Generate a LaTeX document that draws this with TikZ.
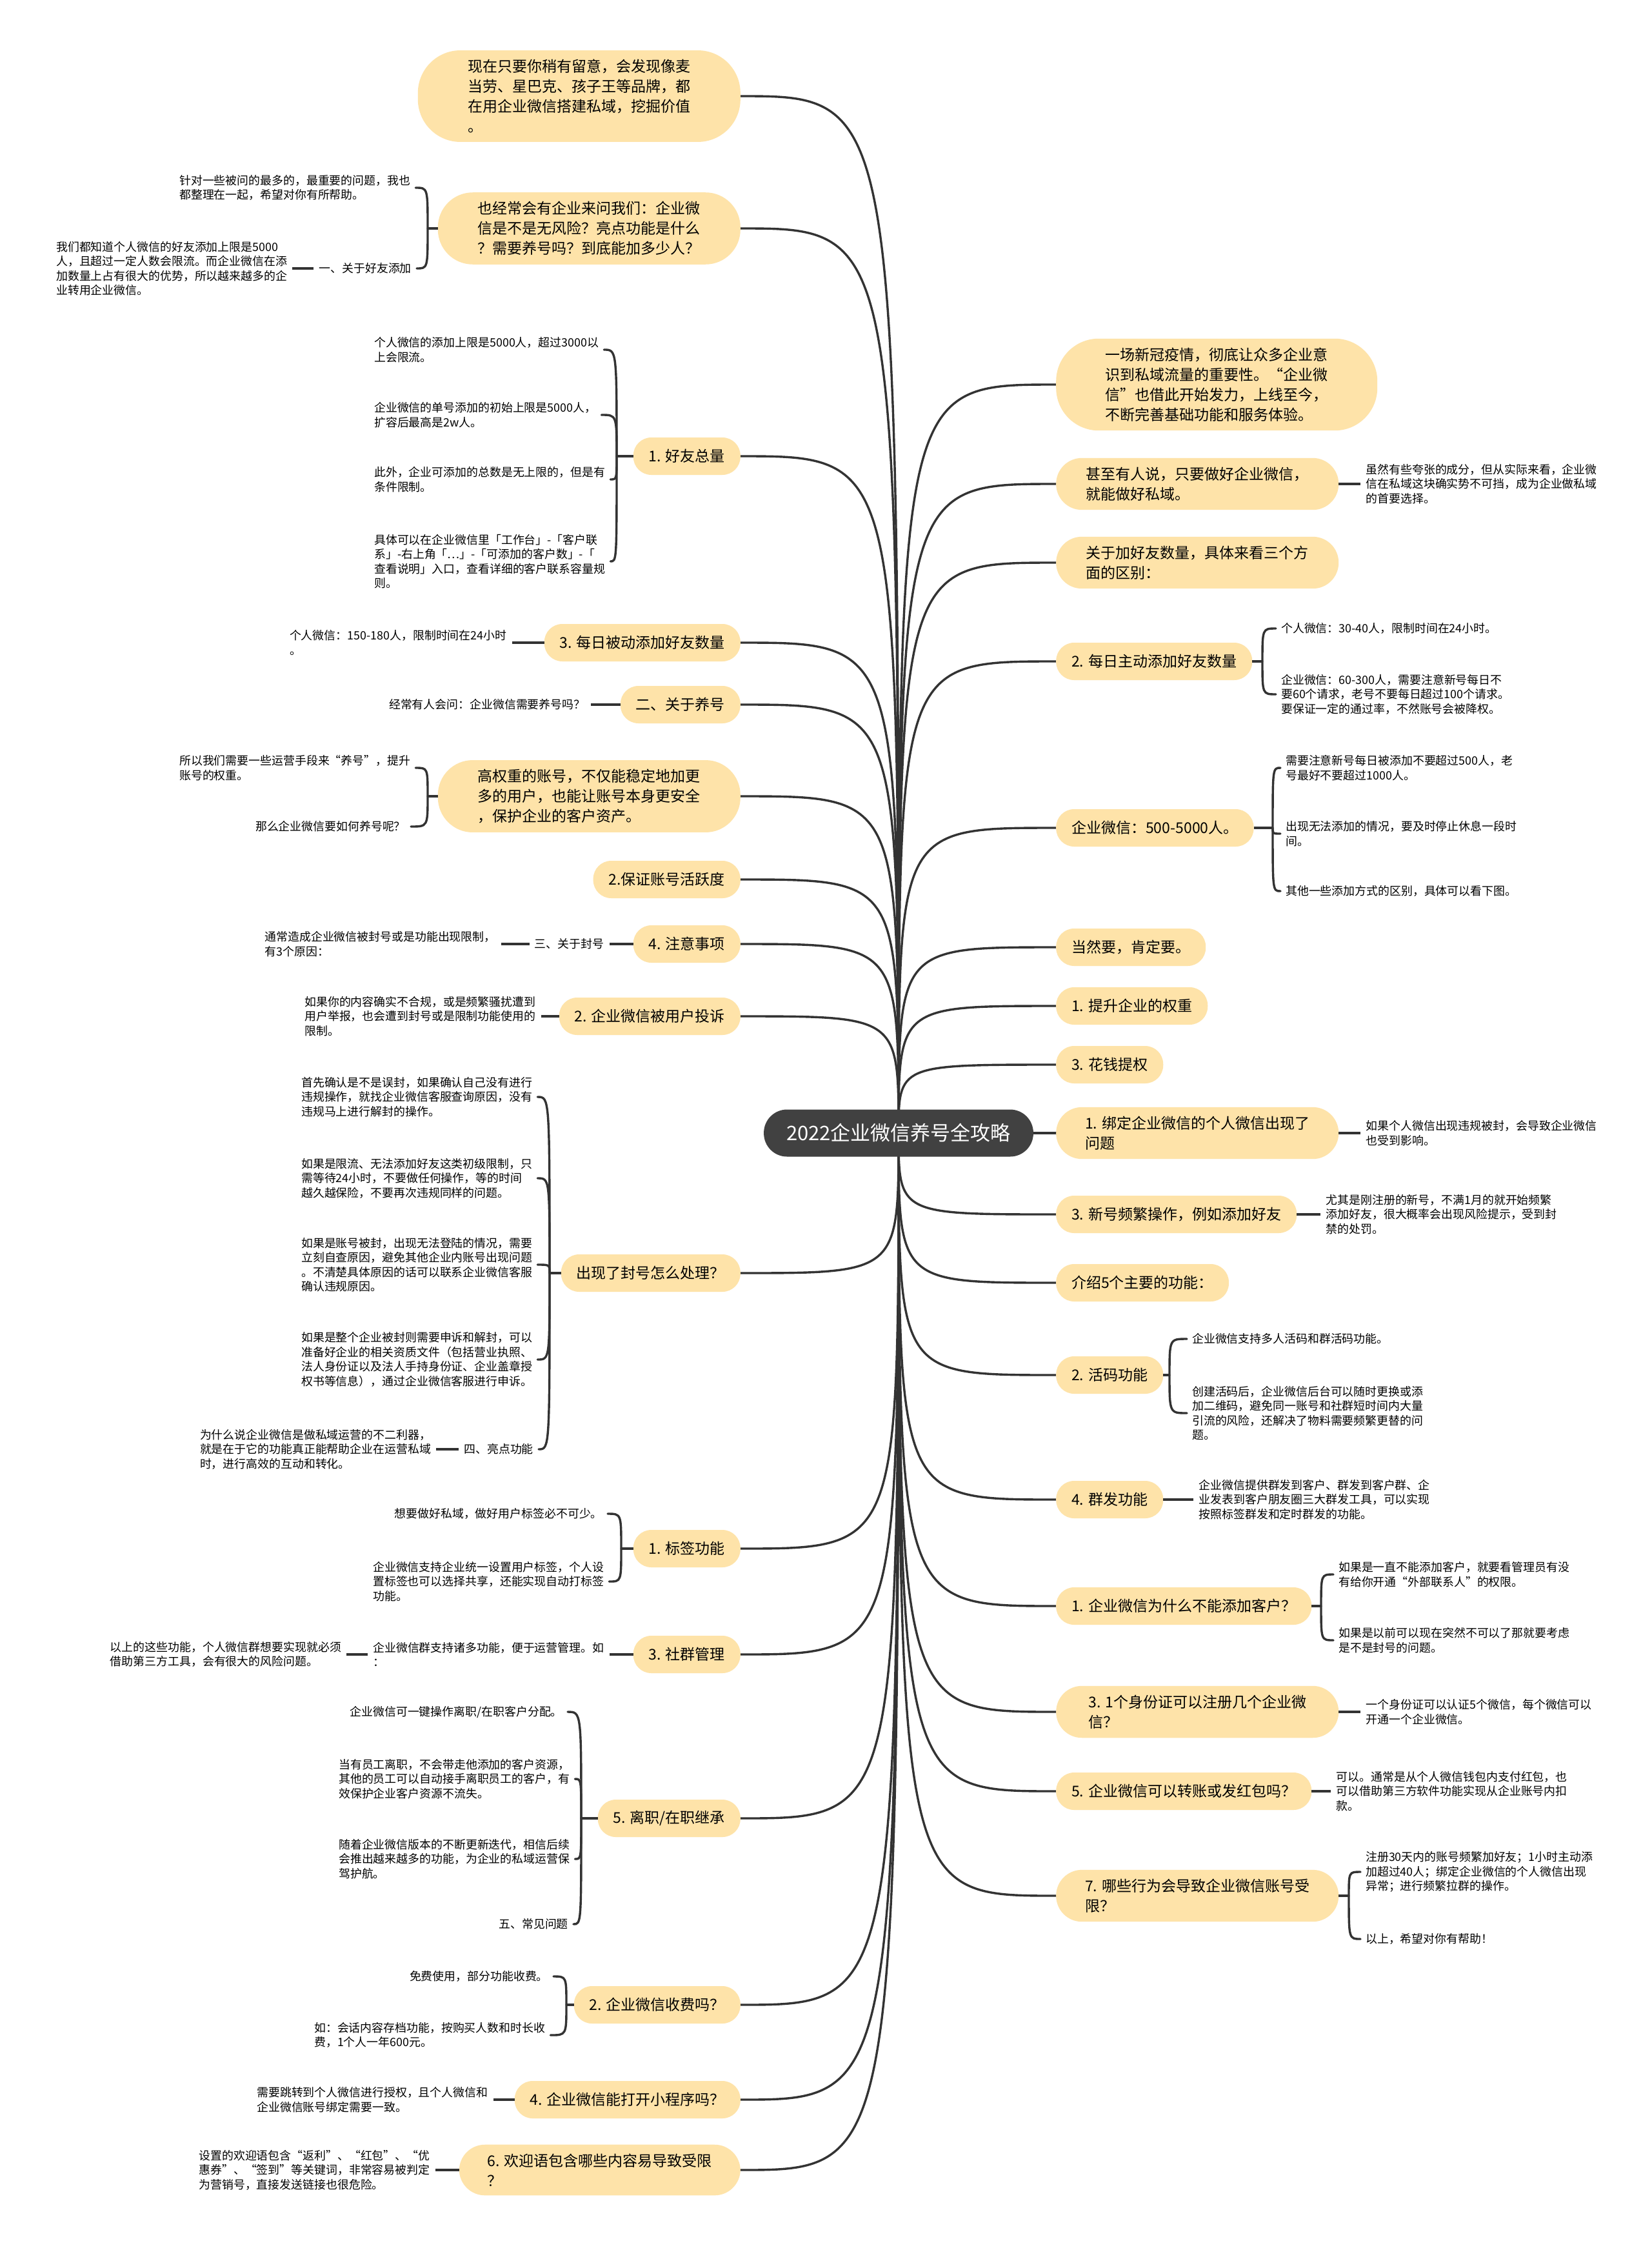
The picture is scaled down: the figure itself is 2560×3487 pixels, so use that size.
\documentclass[tikz,border=0pt]{standalone}
\usepackage{fontspec}
\setmainfont{Noto Sans CJK SC}
\usetikzlibrary{positioning,backgrounds}
\definecolor{boxfill}{HTML}{FEE3A9}
\definecolor{rootfill}{HTML}{414141}
\definecolor{linegray}{HTML}{333333}

\begin{document}
\begin{tikzpicture}[x=1pt, y=-1pt,
    topic/.style={fill=boxfill, rounded corners=28pt, minimum height=58pt, inner xsep=24pt, inner ysep=14pt, align=left, font=\fontsize{23}{31}\selectfont},
    leaf/.style={inner xsep=8pt, inner ysep=3pt, align=left, font=\fontsize{17.9}{22.5}\selectfont},
    link/.style={draw=linegray, line width=3.4pt, line cap=round},
    stub/.style={draw=linegray, line width=4.4pt}
]
\useasboundingbox (0,0) rectangle (2560,3487);

% centre
\node[fill=rootfill, text=white, rounded corners=36pt, minimum height=73pt, inner xsep=35pt, font=\fontsize{31}{36}\selectfont] (root) at (1393,1756) {2022企业微信养号全攻略};

% left topics
\node[topic, anchor=east, minimum width=500pt, rounded corners=66pt] (l1) at (1148,149) {现在只要你稍有留意，会发现像麦\\当劳、星巴克、孩子王等品牌，都\\在用企业微信搭建私域，挖掘价值\\。};
\node[topic, anchor=east, minimum width=469pt, rounded corners=54pt] (l2) at (1148,354) {也经常会有企业来问我们：企业微\\信是不是无风险？亮点功能是什么\\？需要养号吗？到底能加多少人？};
\node[topic, anchor=east] (l3) at (1148,707) {1. 好友总量};
\node[topic, anchor=east] (l4) at (1148,996) {3. 每日被动添加好友数量};
\node[topic, anchor=east] (l5) at (1148,1092) {二、关于养号};
\node[topic, anchor=east, minimum width=469pt, rounded corners=54pt] (l6) at (1148,1234) {高权重的账号，不仅能稳定地加更\\多的用户，也能让账号本身更安全\\，保护企业的客户资产。};
\node[topic, anchor=east] (l7) at (1148,1363) {2.保证账号活跃度};
\node[topic, anchor=east] (l8) at (1148,1463) {4. 注意事项};
\node[topic, anchor=east] (l9) at (1148,1575) {2. 企业微信被用户投诉};
\node[topic, anchor=east] (l10) at (1148,1973) {出现了封号怎么处理？};
\node[topic, anchor=east] (l11) at (1148,2400) {1. 标签功能};
\node[topic, anchor=east] (l12) at (1148,2564) {3. 社群管理};
\node[topic, anchor=east] (l13) at (1148,2818) {5. 离职/在职继承};
\node[topic, anchor=east] (l14) at (1148,3107) {2. 企业微信收费吗？};
\node[topic, anchor=east] (l15) at (1148,3254) {4. 企业微信能打开小程序吗？};
\node[topic, anchor=east, minimum width=436pt, rounded corners=40pt] (l16) at (1148,3363) {6. 欢迎语包含哪些内容易导致受限\\？};

% right topics
\node[topic, anchor=west, minimum width=498pt, rounded corners=66pt] (r1) at (1637,596) {一场新冠疫情，彻底让众多企业意\\识到私域流量的重要性。“企业微\\信”也借此开始发力，上线至今，\\不断完善基础功能和服务体验。};
\node[topic, anchor=west, minimum width=438pt, rounded corners=40pt] (r2) at (1637,750) {甚至有人说，只要做好企业微信，\\就能做好私域。};
\node[topic, anchor=west, minimum width=438pt, rounded corners=40pt] (r3) at (1637,872) {关于加好友数量，具体来看三个方\\面的区别：};
\node[topic, anchor=west] (r4) at (1637,1025) {2. 每日主动添加好友数量};
\node[topic, anchor=west] (r5) at (1637,1283) {企业微信：500-5000人。};
\node[topic, anchor=west] (r6) at (1637,1468) {当然要，肯定要。};
\node[topic, anchor=west] (r7) at (1637,1559) {1. 提升企业的权重};
\node[topic, anchor=west] (r8) at (1637,1650) {3. 花钱提权};
\node[topic, anchor=west, minimum width=438pt, rounded corners=40pt] (r9) at (1637,1756) {1. 绑定企业微信的个人微信出现了\\问题};
\node[topic, anchor=west] (r10) at (1637,1882) {3. 新号频繁操作，例如添加好友};
\node[topic, anchor=west] (r11) at (1637,1988) {介绍5个主要的功能：};
\node[topic, anchor=west] (r12) at (1637,2131) {2. 活码功能};
\node[topic, anchor=west] (r13) at (1637,2324) {4. 群发功能};
\node[topic, anchor=west] (r14) at (1637,2489) {1. 企业微信为什么不能添加客户？};
\node[topic, anchor=west, minimum width=438pt, rounded corners=40pt] (r15) at (1637,2653) {3. 1个身份证可以注册几个企业微\\信？};
\node[topic, anchor=west] (r16) at (1637,2776) {5. 企业微信可以转账或发红包吗？};
\node[topic, anchor=west, minimum width=438pt, rounded corners=40pt] (r17) at (1637,2938) {7. 哪些行为会导致企业微信账号受\\限？};

% left details
\node[leaf, anchor=west] (l2a) at (270,291) {针对一些被问的最多的，最重要的问题，我也\\都整理在一起，希望对你有所帮助。};
\node[leaf, anchor=east] (l2b) at (646,416) {一、关于好友添加};
\node[leaf, left=33pt of l2b] (l2c) {我们都知道个人微信的好友添加上限是5000\\人，且超过一定人数会限流。而企业微信在添\\加数量上占有很大的优势，所以越来越多的企\\业转用企业微信。};
\node[leaf, anchor=west] (l3a) at (572,542) {个人微信的添加上限是5000人，超过3000以\\上会限流。};
\node[leaf, anchor=west] (l3b) at (572,643) {企业微信的单号添加的初始上限是5000人，\\扩容后最高是2w人。};
\node[leaf, anchor=west] (l3c) at (572,743) {此外，企业可添加的总数是无上限的，但是有\\条件限制。};
\node[leaf, anchor=west] (l3d) at (572,870) {具体可以在企业微信里「工作台」-「客户联\\系」-右上角「…」-「可添加的客户数」-「\\查看说明」入口，查看详细的客户联系容量规\\则。};
\node[leaf, left=50pt of l4] (l4a) {个人微信：150-180人，限制时间在24小时\\。};
\node[leaf, left=46pt of l5] (l5a) {经常有人会问：企业微信需要养号吗？};
\node[leaf, anchor=west] (l6a) at (270,1190) {所以我们需要一些运营手段来“养号”，提升\\账号的权重。};
\node[leaf, anchor=east] (l6b) at (637,1281) {那么企业微信要如何养号呢？};
\node[leaf, left=37pt of l8] (l8a) {三、关于封号};
\node[leaf, left=44pt of l8a] (l8b) {通常造成企业微信被封号或是功能出现限制，\\有3个原因：};
\node[leaf, left=28pt of l9] (l9a) {如果你的内容确实不合规，或是频繁骚扰遭到\\用户举报，也会遭到封号或是限制功能使用的\\限制。};
\node[leaf, anchor=west] (l10a) at (459,1700) {首先确认是不是误封，如果确认自己没有进行\\违规操作，就找企业微信客服查询原因，没有\\违规马上进行解封的操作。};
\node[leaf, anchor=west] (l10b) at (459,1826) {如果是限流、无法添加好友这类初级限制，只\\需等待24小时，不要做任何操作，等的时间\\越久越保险，不要再次违规同样的问题。};
\node[leaf, anchor=west] (l10c) at (459,1960) {如果是账号被封，出现无法登陆的情况，需要\\立刻自查原因，避免其他企业内账号出现问题\\。不清楚具体原因的话可以联系企业微信客服\\确认违规原因。};
\node[leaf, anchor=west] (l10d) at (459,2107) {如果是整个企业被封则需要申诉和解封，可以\\准备好企业的相关资质文件（包括营业执照、\\法人身份证以及法人手持身份证、企业盖章授\\权书等信息），通过企业微信客服进行申诉。};
\node[leaf, anchor=east] (l10e) at (835,2246) {四、亮点功能};
\node[leaf, left=35pt of l10e] (l10f) {为什么说企业微信是做私域运营的不二利器，\\就是在于它的功能真正能帮助企业在运营私域\\时，进行高效的互动和转化。};
\node[leaf, anchor=east] (l11a) at (942,2346) {想要做好私域，做好用户标签必不可少。};
\node[leaf, anchor=west] (l11b) at (570,2451) {企业微信支持企业统一设置用户标签，个人设\\置标签也可以选择共享，还能实现自动打标签\\功能。};
\node[leaf, left=37pt of l12] (l12a) {企业微信群支持诸多功能，便于运营管理。如\\：};
\node[leaf, left=33pt of l12a] (l12b) {以上的这些功能，个人微信群想要实现就必须\\借助第三方工具，会有很大的风险问题。};
\node[leaf, anchor=east] (l13a) at (880,2653) {企业微信可一键操作离职/在职客户分配。};
\node[leaf, anchor=west] (l13b) at (517,2757) {当有员工离职，不会带走他添加的客户资源，\\其他的员工可以自动接手离职员工的客户，有\\效保护企业客户资源不流失。};
\node[leaf, anchor=west] (l13c) at (517,2881) {随着企业微信版本的不断更新迭代，相信后续\\会推出越来越多的功能，为企业的私域运营保\\驾护航。};
\node[leaf, anchor=east] (l13d) at (889,2982) {五、常见问题};
\node[leaf, anchor=east] (l14a) at (858,3063) {免费使用，部分功能收费。};
\node[leaf, anchor=west] (l14b) at (479,3154) {如：会话内容存档功能，按购买人数和时长收\\费，1个人一年600元。};
\node[leaf, left=33pt of l15] (l15a) {需要跳转到个人微信进行授权，且个人微信和\\企业微信账号绑定需要一致。};
\node[leaf, left=37pt of l16] (l16a) {设置的欢迎语包含“返利”、“红包”、“优\\惠券”、“签到”等关键词，非常容易被判定\\为营销号，直接发送链接也很危险。};

% right details
\node[leaf, right=34pt of r2] (r2a) {虽然有些夸张的成分，但从实际来看，企业微\\信在私域这块确实势不可挡，成为企业做私域\\的首要选择。};
\node[leaf, anchor=west] (r4a) at (1978,974) {个人微信：30-40人，限制时间在24小时。};
\node[leaf, anchor=west] (r4b) at (1978,1076) {企业微信：60-300人，需要注意新号每日不\\要60个请求，老号不要每日超过100个请求。\\要保证一定的通过率，不然账号会被降权。};
\node[leaf, anchor=west] (r5a) at (1985,1190) {需要注意新号每日被添加不要超过500人，老\\号最好不要超过1000人。};
\node[leaf, anchor=west] (r5b) at (1985,1292) {出现无法添加的情况，要及时停止休息一段时\\间。};
\node[leaf, anchor=west] (r5c) at (1985,1381) {其他一些添加方式的区别，具体可以看下图。};
\node[leaf, right=34pt of r9] (r9a) {如果个人微信出现违规被封，会导致企业微信\\也受到影响。};
\node[leaf, right=37pt of r10] (r10a) {尤其是刚注册的新号，不满1月的就开始频繁\\添加好友，很大概率会出现风险提示，受到封\\禁的处罚。};
\node[leaf, anchor=west] (r12a) at (1840,2075) {企业微信支持多人活码和群活码功能。};
\node[leaf, anchor=west] (r12b) at (1840,2190) {创建活码后，企业微信后台可以随时更换或添\\加二维码，避免同一账号和社群短时间内大量\\引流的风险，还解决了物料需要频繁更替的问\\题。};
\node[leaf, right=47pt of r13] (r13a) {企业微信提供群发到客户、群发到客户群、企\\业发表到客户朋友圈三大群发工具，可以实现\\按照标签群发和定时群发的功能。};
\node[leaf, anchor=west] (r14a) at (2067,2440) {如果是一直不能添加客户，就要看管理员有没\\有给你开通“外部联系人”的权限。};
\node[leaf, anchor=west] (r14b) at (2067,2542) {如果是以前可以现在突然不可以了那就要考虑\\是不是封号的问题。};
\node[leaf, right=34pt of r15] (r15a) {一个身份证可以认证5个微信，每个微信可以\\开通一个企业微信。};
\node[leaf, right=30pt of r16] (r16a) {可以。通常是从个人微信钱包内支付红包，也\\可以借助第三方软件功能实现从企业账号内扣\\款。};
\node[leaf, anchor=west] (r17a) at (2109,2901) {注册30天内的账号频繁加好友；1小时主动添\\加超过40人；绑定企业微信的个人微信出现\\异常；进行频繁拉群的操作。};
\node[leaf, anchor=west] (r17b) at (2109,3005) {以上，希望对你有帮助！};

% bracket points
\coordinate (k2) at (663,354);
\coordinate (k3) at (956,707);
\coordinate (k6) at (663,1234);
\coordinate (k10) at (852,1973);
\coordinate (k11) at (963,2400);
\coordinate (k13) at (901,2818);
\coordinate (k14) at (878,3107);
\coordinate (m4) at (1957,1025);
\coordinate (m5) at (1973,1283);
\coordinate (m12) at (1813,2131);
\coordinate (m14) at (2048,2489);
\coordinate (m17) at (2091,2938);

\begin{scope}[on background layer]
\fill[white] (0,0) rectangle (2560,3487);
% branches from the centre
\foreach \n in {l1,l2,l3,l4,l5,l6,l7,l8,l9,l10,l11,l12,l13,l14,l15,l16}
  \draw[link] (root.center) .. controls (root.center |- \n.east) .. (\n.east);
\foreach \n in {r1,r2,r3,r4,r5,r6,r7,r8,r9,r10,r11,r12,r13,r14,r15,r16,r17}
  \draw[link] (root.center) .. controls (root.center |- \n.west) .. (\n.west);
\end{scope}

% brackets on the left
\draw[stub] (l2.west) -- (k2);
\foreach \c in {l2a,l2b}
  \draw[link] (k2) .. controls (k2 |- \c.east) .. (\c.east);
\draw[stub] (l3.west) -- (k3);
\foreach \c in {l3a,l3b,l3c,l3d}
  \draw[link] (k3) .. controls (k3 |- \c.east) .. (\c.east);
\draw[stub] (l6.west) -- (k6);
\foreach \c in {l6a,l6b}
  \draw[link] (k6) .. controls (k6 |- \c.east) .. (\c.east);
\draw[stub] (l10.west) -- (k10);
\foreach \c in {l10a,l10b,l10c,l10d,l10e}
  \draw[link] (k10) .. controls (k10 |- \c.east) .. (\c.east);
\draw[stub] (l11.west) -- (k11);
\foreach \c in {l11a,l11b}
  \draw[link] (k11) .. controls (k11 |- \c.east) .. (\c.east);
\draw[stub] (l13.west) -- (k13);
\foreach \c in {l13a,l13b,l13c,l13d}
  \draw[link] (k13) .. controls (k13 |- \c.east) .. (\c.east);
\draw[stub] (l14.west) -- (k14);
\foreach \c in {l14a,l14b}
  \draw[link] (k14) .. controls (k14 |- \c.east) .. (\c.east);

% brackets on the right
\draw[stub] (r4.east) -- (m4);
\foreach \c in {r4a,r4b}
  \draw[link] (m4) .. controls (m4 |- \c.west) .. (\c.west);
\draw[stub] (r5.east) -- (m5);
\foreach \c in {r5a,r5b,r5c}
  \draw[link] (m5) .. controls (m5 |- \c.west) .. (\c.west);
\draw[stub] (r12.east) -- (m12);
\foreach \c in {r12a,r12b}
  \draw[link] (m12) .. controls (m12 |- \c.west) .. (\c.west);
\draw[stub] (r14.east) -- (m14);
\foreach \c in {r14a,r14b}
  \draw[link] (m14) .. controls (m14 |- \c.west) .. (\c.west);
\draw[stub] (r17.east) -- (m17);
\foreach \c in {r17a,r17b}
  \draw[link] (m17) .. controls (m17 |- \c.west) .. (\c.west);

% single details
\draw[stub] (l2b) -- (l2c);
\draw[stub] (l4) -- (l4a);
\draw[stub] (l5) -- (l5a);
\draw[stub] (l8) -- (l8a);
\draw[stub] (l8a) -- (l8b);
\draw[stub] (l9) -- (l9a);
\draw[stub] (l10e) -- (l10f);
\draw[stub] (l12) -- (l12a);
\draw[stub] (l12a) -- (l12b);
\draw[stub] (l15) -- (l15a);
\draw[stub] (l16) -- (l16a);
\draw[stub] (r2) -- (r2a);
\draw[stub] (r9) -- (r9a);
\draw[stub] (r10) -- (r10a);
\draw[stub] (r13) -- (r13a);
\draw[stub] (r15) -- (r15a);
\draw[stub] (r16) -- (r16a);
\end{tikzpicture}
\end{document}
